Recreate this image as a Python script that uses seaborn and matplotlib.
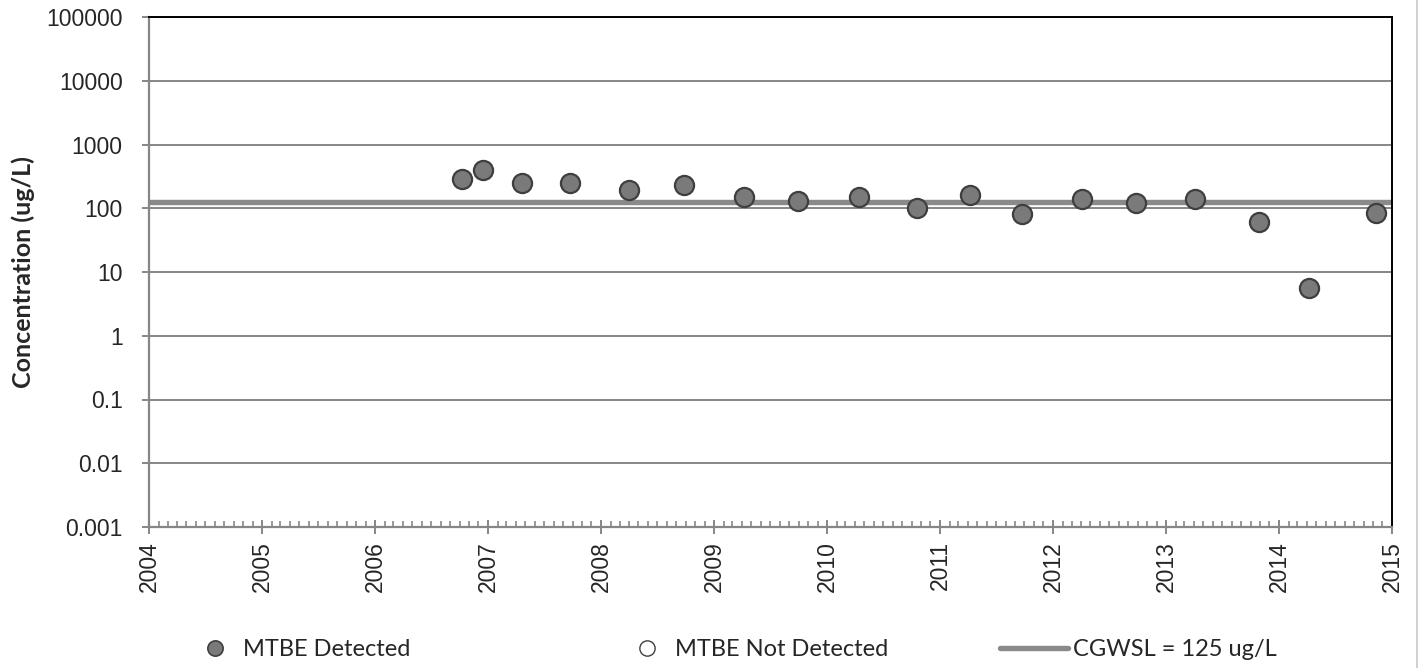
import matplotlib
matplotlib.use("Agg")
import matplotlib.pyplot as plt
import matplotlib.dates as mdates
from matplotlib.lines import Line2D
import numpy as np
import pandas as pd
import seaborn as sns

# Sampling dates and MTBE concentrations (ug/L)
sample_dates = [
    "2006-10-08", "2006-12-16", "2007-04-22", "2007-09-24", "2008-04-01",
    "2008-09-24", "2009-04-08", "2009-09-28", "2010-04-13", "2010-10-18",
    "2011-04-08", "2011-09-24", "2012-04-05", "2012-09-24", "2013-04-05",
    "2013-10-27", "2014-04-08", "2014-11-10",
]
mtbe_detected = [
    290, 400, 250, 250, 190,
    230, 150, 130, 150, 100,
    160, 81, 140, 120, 140,
    60, 5.6, 83,
]
cgwsl_value = 125

y_ticks = [0.001, 0.01, 0.1, 1, 10, 100, 1000, 10000, 100000]
y_tick_labels = ["0.001", "0.01", "0.1", "1", "10", "100", "1000", "10000", "100000"]
x_years = list(range(2004, 2016))

df = pd.DataFrame({"date": pd.to_datetime(sample_dates), "mtbe": mtbe_detected})

sns.set_style("white")
plt.rcParams["font.family"] = ["Liberation Sans", "DejaVu Sans"]

fig = plt.figure(figsize=(14.2, 6.68), dpi=100)
ax = fig.add_axes([149 / 1420, 1 - 527 / 668, (1392 - 149) / 1420, (527 - 17) / 668])

grid_color = "#868686"
face_color = "#7a7a7a"
edge_color = "#3f3f3f"
line_color = "#8a8a8a"

ax.set_yscale("log")
ax.set_ylim(1e-3, 1e5)
ax.set_xlim(pd.Timestamp("2004-01-01"), pd.Timestamp("2015-01-01"))

for yv in y_ticks[1:]:
    ax.axhline(yv, color=grid_color, lw=1.4, zorder=1)

ax.axhline(cgwsl_value, color=line_color, lw=3.9, zorder=2, solid_capstyle="round")

sns.scatterplot(data=df, x="date", y="mtbe", ax=ax, s=190, color=face_color,
                edgecolor=edge_color, linewidth=1.6, zorder=3, legend=False, clip_on=False)

tick_font = {"family": "Liberation Sans", "size": 16.5}
ax.set_yticks(y_ticks)
ax.set_yticklabels(y_tick_labels, fontdict=tick_font)
ax.yaxis.set_minor_locator(matplotlib.ticker.NullLocator())
ax.set_xticks([pd.Timestamp(f"{y}-01-01") for y in x_years])
ax.set_xticklabels([str(y) for y in x_years], rotation=90, fontdict=tick_font)
ax.xaxis.set_minor_locator(mdates.MonthLocator())

ax.tick_params(axis="y", which="major", direction="out", length=5, width=1.4,
               color=grid_color, pad=14, left=True)
ax.tick_params(axis="x", which="major", direction="inout", length=10, width=1.4,
               color=grid_color, pad=5, bottom=True)
ax.tick_params(axis="x", which="minor", direction="in", length=4, width=1.2,
               color=grid_color, bottom=True)

for side in ("left", "bottom"):
    ax.spines[side].set_color(grid_color)
    ax.spines[side].set_linewidth(1.6)
for side in ("top", "right"):
    ax.spines[side].set_color("black")
    ax.spines[side].set_linewidth(1.4)

ax.set_xlabel("")
ax.set_ylabel("Concentration (ug/L)", fontsize=18, fontweight="bold",
              family=["Lato", "DejaVu Sans"], labelpad=8)

# Legend entries along the bottom
leg_font = {"family": ["Lato", "DejaVu Sans"], "size": 17}
h_det = Line2D([], [], ls="none", marker="o", markersize=11, markerfacecolor=face_color,
               markeredgecolor=edge_color, markeredgewidth=1.2)
h_nd = Line2D([], [], ls="none", marker="o", markersize=11, markerfacecolor="white",
              markeredgecolor=edge_color, markeredgewidth=1.0)
h_line = Line2D([], [], color=line_color, lw=3.9, solid_capstyle="round")

yc = 1 - 650 / 668
for handle, label, x0, hl, pad in [
    (h_det, "MTBE Detected", 203.2 / 1420, 1.0, 0.69),
    (h_nd, "MTBE Not Detected", 635.2 / 1420, 1.0, 0.69),
    (h_line, "CGWSL = 125 ug/L", 1000 / 1420, 2.88, 0.2),
]:
    fig.legend([handle], [label], loc="center left", bbox_to_anchor=(x0, yc),
               frameon=False, prop=leg_font, handlelength=hl, handletextpad=pad,
               borderpad=0, borderaxespad=0)

fig.add_artist(Line2D([1417 / 1420, 1417 / 1420], [0, 1], color="#c8c8c8", lw=1.2,
                      transform=fig.transFigure))

fig.savefig("out.png", dpi=100)
